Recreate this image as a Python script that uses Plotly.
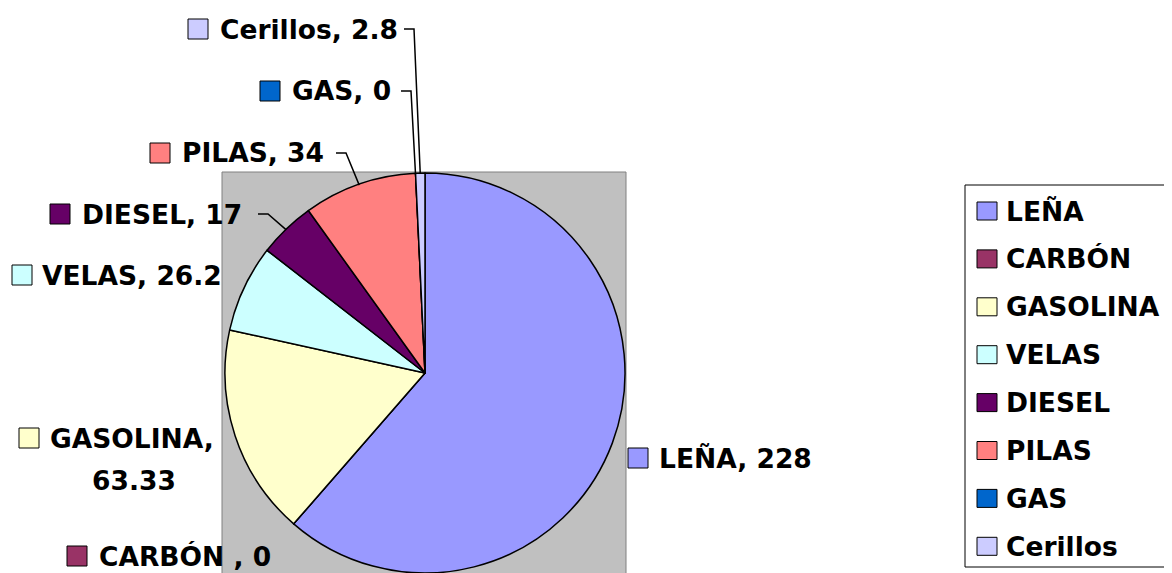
import math
import plotly.graph_objects as go

# ---- data ----
categories = ["LEÑA", "CARBÓN", "GASOLINA", "VELAS", "DIESEL", "PILAS", "GAS", "Cerillos"]
values = [228, 0, 63.33, 26.2, 17, 34, 0, 2.8]
label_names = ["LEÑA", "CARBÓN ", "GASOLINA", "VELAS", "DIESEL", "PILAS", "GAS", "Cerillos"]
colors = ["#9999FF", "#993366", "#FFFFCC", "#CCFFFF", "#660066", "#FF8080", "#0066CC", "#CCCCFF"]

# page is offset by the default 8px body margin
OFF = 8
W, H = 1172 - OFF, 573 - OFF


def px(x):
    return (x - OFF) / W


def py(y):
    return 1 - (y - OFF) / H


# pie geometry (page pixels)
CX, CY, R = 425, 373, 200

FONT = dict(family="DejaVu Sans", size=26.5, color="black", weight="bold")

fig = go.Figure()
fig.add_trace(go.Pie(
    values=values,
    labels=categories,
    marker=dict(colors=colors, line=dict(color="black", width=1.5)),
    sort=False,
    direction="clockwise",
    rotation=0,
    textinfo="none",
    hoverinfo="skip",
    showlegend=False,
    domain=dict(x=[px(CX - R), px(CX + R)], y=[max(0, py(CY + R)), py(CY - R)]),
))


def fmt(v):
    return "%g" % v


shapes = []
annotations = []

# plot-area gray rectangle
shapes.append(dict(type="rect", xref="paper", yref="paper", layer="below",
                   x0=px(222), x1=px(626), y0=py(590), y1=py(172),
                   fillcolor="#C0C0C0", line=dict(color="#808080", width=1)))

# data label layout: (square left x, text left x, center y, leader start x or None)
label_layout = {
    "LEÑA": (628, 657, 458, None),
    "CARBÓN": (67, 97, 556, None),
    "GASOLINA": (19, 48, 438, None),
    "VELAS": (12, 40, 275, None),
    "DIESEL": (50, 80, 214, 258),
    "PILAS": (150, 180, 153, 336),
    "GAS": (260, 290, 91, 401),
    "Cerillos": (188, 218, 29, 404),
}

total = sum(values)
cum = 0.0
for cat, name, val, col in zip(categories, label_names, values, colors):
    mid = (cum + val / 2) / total * 2 * math.pi
    cum += val
    sqx, tx, ty, lx = label_layout[cat]
    shapes.append(dict(type="rect", xref="paper", yref="paper",
                       x0=px(sqx), x1=px(sqx + 20), y0=py(ty + 10), y1=py(ty - 10),
                       fillcolor=col, line=dict(color="black", width=1)))
    if cat == "GASOLINA":
        annotations.append(dict(x=px(tx), y=py(ty), xref="paper", yref="paper",
                                xanchor="left", yanchor="middle", showarrow=False,
                                text=f"{name},", font=FONT))
        annotations.append(dict(x=px(134), y=py(ty + 43), xref="paper", yref="paper",
                                xanchor="center", yanchor="middle", showarrow=False,
                                text=fmt(val), font=FONT))
    else:
        annotations.append(dict(x=px(tx), y=py(ty), xref="paper", yref="paper",
                                xanchor="left", yanchor="middle", showarrow=False,
                                text=f"{name}, {fmt(val)}", font=FONT))
    if lx is not None:
        ax = CX + R * math.sin(mid)
        ay = CY - R * math.cos(mid)
        path = f"M {px(lx)},{py(ty)} L {px(lx + 10)},{py(ty)} L {px(ax)},{py(ay + 1)}"
        shapes.append(dict(type="path", xref="paper", yref="paper", path=path,
                           line=dict(color="black", width=1.5)))

# manual legend
shapes.append(dict(type="rect", xref="paper", yref="paper",
                   x0=px(965), x1=px(1190), y0=py(567), y1=py(185),
                   fillcolor="white", line=dict(color="black", width=1), layer="below"))
for i, (cat, col) in enumerate(zip(categories, colors)):
    yy = 211 + i * 47.9
    shapes.append(dict(type="rect", xref="paper", yref="paper",
                       x0=px(977), x1=px(997), y0=py(yy + 9), y1=py(yy - 9),
                       fillcolor=col, line=dict(color="black", width=1)))
    annotations.append(dict(x=px(1004), y=py(yy), xref="paper", yref="paper",
                            xanchor="left", yanchor="middle", showarrow=False,
                            text=cat, font=FONT))

fig.update_layout(
    width=W, height=H,
    margin=dict(l=0, r=0, t=0, b=0),
    paper_bgcolor="white",
    plot_bgcolor="white",
    shapes=shapes,
    annotations=annotations,
    showlegend=False,
)

fig.write_html("out.html")
